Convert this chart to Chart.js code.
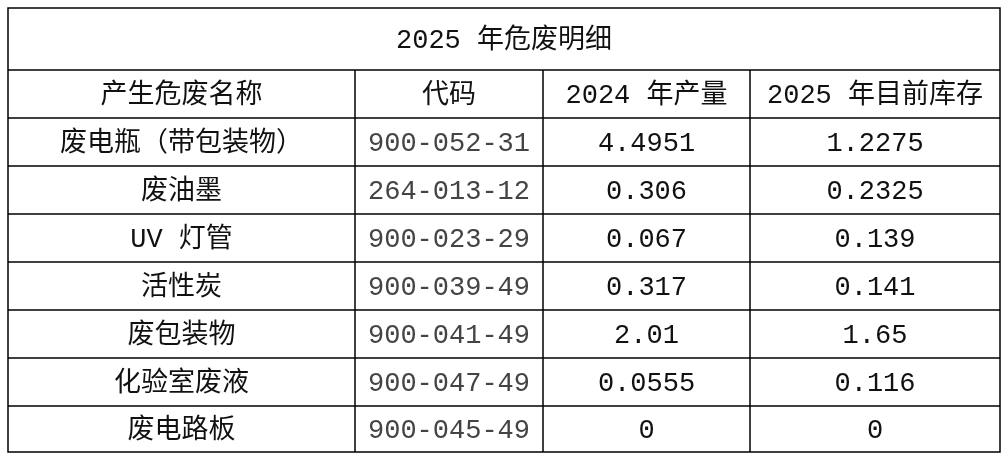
<!DOCTYPE html><html><head><meta charset="utf-8">
<script src="https://cdn.jsdelivr.net/npm/chart.js@4"></script>
<style>html,body{margin:0;background:#fff}#w{width:1008px;height:456px}</style></head><body>
<div id="w"><canvas id="c"></canvas></div>
<script>
const title = "2025 年危废明细";
const headers = ["产生危废名称","代码","2024 年产量","2025 年目前库存"];
const names = ["废电瓶（带包装物）","废油墨","UV 灯管","活性炭","废包装物","化验室废液","废电路板"];
const codes = ["900-052-31","264-013-12","900-023-29","900-039-49","900-041-49","900-047-49","900-045-49"];
const prod2024 = ["4.4951","0.306","0.067","0.317","2.01","0.0555","0"];
const stock2025 = ["1.2275","0.2325","0.139","0.141","1.65","0.116","0"];

const colX = [8,355,543,750,1000];
const rowY = [8,70,118,166,214,262,310,358,406,452];
const font = '27px "Liberation Mono","Noto Sans CJK SC",sans-serif';
const tablePlugin = {id:'table', afterDraw(ch){
  const ctx=ch.ctx, xs=ch.scales.x, ys=ch.scales.y;
  const X=v=>xs.getPixelForValue(v), Y=v=>ys.getPixelForValue(v);
  ctx.save(); ctx.strokeStyle='#000'; ctx.lineWidth=1.5;
  ctx.strokeRect(X(colX[0]),Y(rowY[0]),X(colX[4])-X(colX[0]),Y(rowY[9])-Y(rowY[0]));
  for(let i=1;i<rowY.length-1;i++){ctx.beginPath();ctx.moveTo(X(colX[0]),Y(rowY[i]));ctx.lineTo(X(colX[4]),Y(rowY[i]));ctx.stroke();}
  for(let j=1;j<colX.length-1;j++){ctx.beginPath();ctx.moveTo(X(colX[j]),Y(rowY[1]));ctx.lineTo(X(colX[j]),Y(rowY[9]));ctx.stroke();}
  ctx.font=font; ctx.textAlign='center'; ctx.textBaseline='middle'; ctx.fillStyle='#111';
  ctx.fillText(title,(X(colX[0])+X(colX[4]))/2,(Y(rowY[0])+Y(rowY[1]))/2+2);
  const rows=[headers].concat(names.map((n,i)=>[n,codes[i],prod2024[i],stock2025[i]]));
  rows.forEach((r,i)=>r.forEach((t,j)=>{
    ctx.fillStyle = (j===1 && i>0)?'#444':'#111';
    ctx.fillText(t,(X(colX[j])+X(colX[j+1]))/2,(Y(rowY[i+1])+Y(rowY[i+2]))/2+2);
  }));
  ctx.restore();
}};
new Chart(document.getElementById('c'),{type:'scatter',
 data:{datasets:[{data:[],showLine:false}]},
 options:{responsive:true,maintainAspectRatio:false,animation:false,
  layout:{padding:0},
  plugins:{legend:{display:false},tooltip:{enabled:false}},
  scales:{x:{type:'linear',min:0,max:1008,display:false},y:{type:'linear',min:0,max:456,reverse:true,display:false}}},
 plugins:[tablePlugin]});
</script></body></html>
